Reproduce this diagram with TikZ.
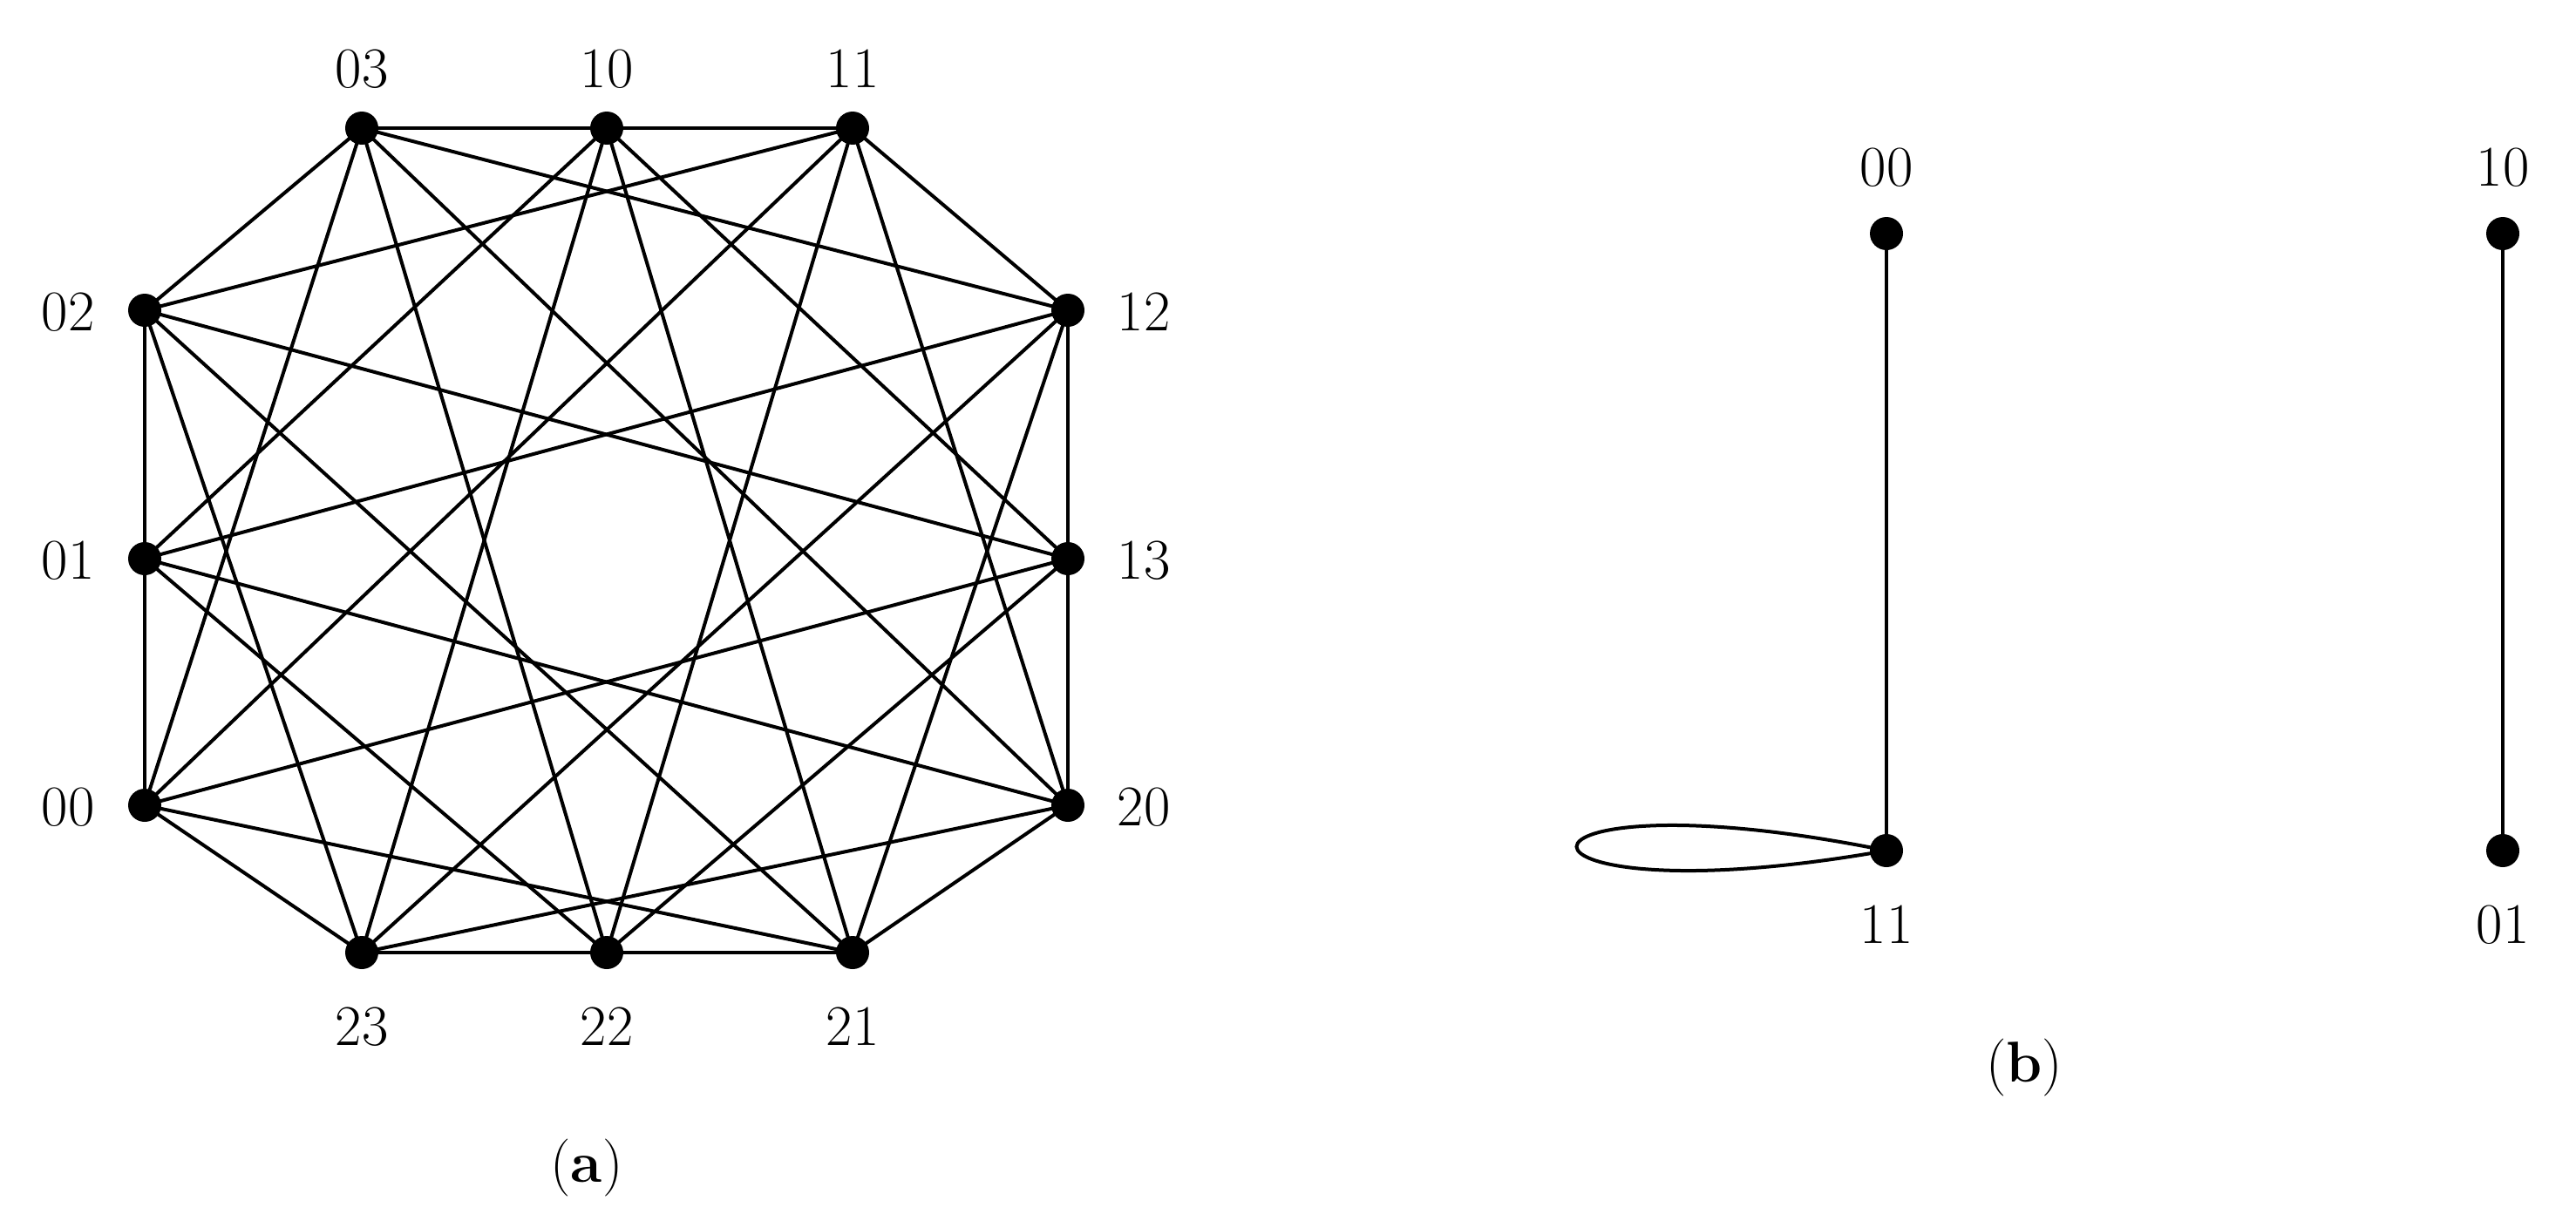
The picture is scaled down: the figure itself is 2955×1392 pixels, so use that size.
\documentclass[tikz,border=0pt]{standalone}
\begin{document}
\begin{tikzpicture}[x=1pt,y=-1pt,
  dot/.style={circle,fill=black,inner sep=0pt,minimum size=38pt},
  lbl/.style={font=\fontsize{66}{70}\selectfont},
  edge/.style={line width=4pt}]
\useasboundingbox (0,0) rectangle (2955,1392);
% panel a
\node[dot] (a03) at (415,147) {};
\node[dot] (a10) at (696,147) {};
\node[dot] (a11) at (978,147) {};
\node[dot] (a12) at (1225,356) {};
\node[dot] (a13) at (1225,641) {};
\node[dot] (a20) at (1225,924) {};
\node[dot] (a21) at (978,1093) {};
\node[dot] (a22) at (696,1093) {};
\node[dot] (a23) at (415,1093) {};
\node[dot] (a00) at (166,924) {};
\node[dot] (a01) at (166,641) {};
\node[dot] (a02) at (166,356) {};
\foreach \e in {00,02,10,12,20,22}
  \foreach \o in {01,03,11,13,21,23}
    \draw[edge] (a\e.center) -- (a\o.center);
\node[lbl] (l03) at (415,79) {03};
\node[lbl] (l10) at (696,79) {10};
\node[lbl] (l11) at (978,79) {11};
\node[lbl] (l12) at (1312,358) {12};
\node[lbl] (l13) at (1312,643) {13};
\node[lbl] (l20) at (1312,926) {20};
\node[lbl] (l21) at (978,1178) {21};
\node[lbl] (l22) at (696,1178) {22};
\node[lbl] (l23) at (415,1178) {23};
\node[lbl] (l00) at (78,926) {00};
\node[lbl] (l01) at (78,643) {01};
\node[lbl] (l02) at (78,358) {02};
\node[lbl] (ca) at (673,1340) {(\textbf{a})};
% panel b
\node[dot] (b00) at (2164,268) {};
\node[dot] (b10) at (2871,268) {};
\node[dot] (b11) at (2164,976) {};
\node[dot] (b01) at (2871,976) {};
\draw[edge] (b00.center) -- (b11.center);
\draw[edge] (b10.center) -- (b01.center);
\draw[edge] (b11.center) .. controls (1690,880) and (1690,1060) .. (b11.center);
\node[lbl] (lb00) at (2164,192) {00};
\node[lbl] (lb10) at (2871,192) {10};
\node[lbl] (lb11) at (2164,1061) {11};
\node[lbl] (lb01) at (2871,1061) {01};
\node[lbl] (cb) at (2322,1225) {(\textbf{b})};
\end{tikzpicture}
\end{document}
